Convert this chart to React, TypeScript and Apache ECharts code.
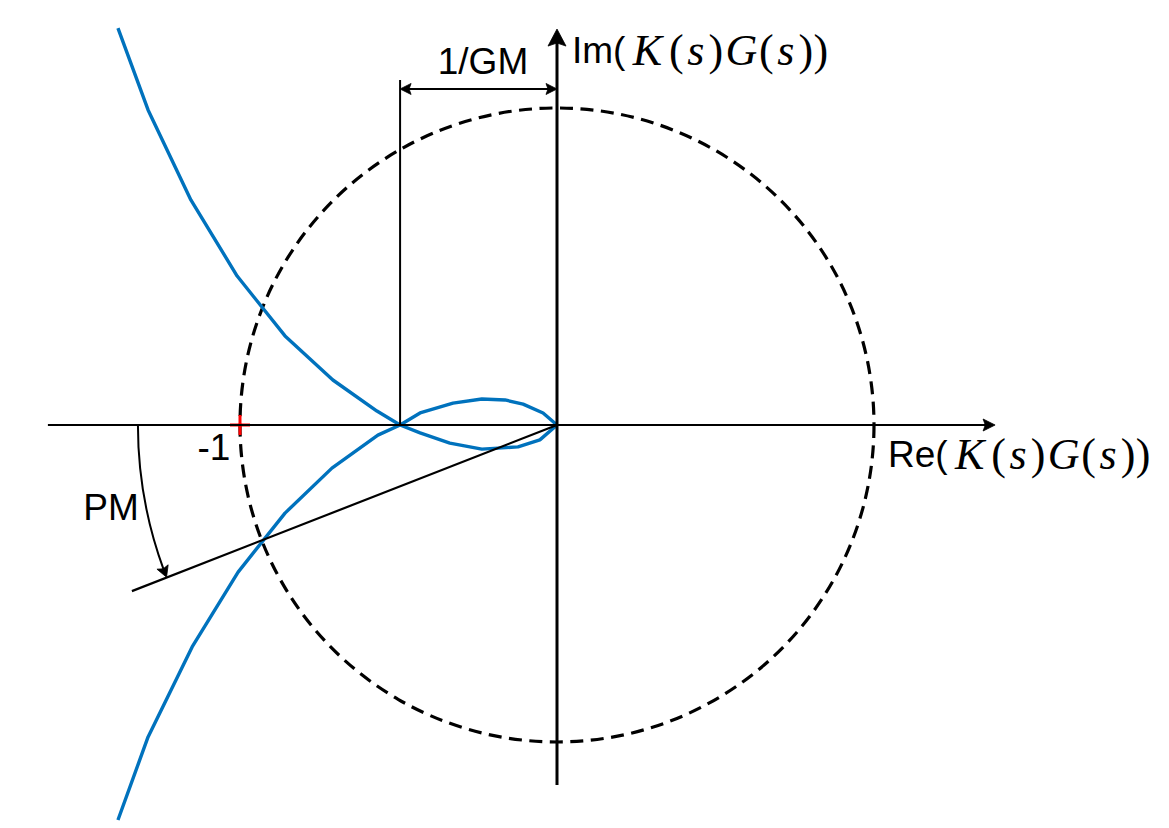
import React, { useEffect, useRef } from "react";
import * as echarts from "echarts";

// ---- Data (Nyquist plot of K(s)G(s)) ----
// branch starting top-left, crossing the real axis at -1/GM, lower loop into origin
const branchA: [number, number][] = [
  [-1.385, 1.252], [-1.29, 0.994], [-1.155, 0.71], [-1.009, 0.47], [-0.858, 0.281],
  [-0.707, 0.142], [-0.568, 0.044], [-0.495, 0.0], [-0.432, -0.025], [-0.338, -0.057],
  [-0.237, -0.076], [-0.123, -0.069], [-0.054, -0.047], [0.0, 0.0],
];
// branch starting bottom-left, crossing at -1/GM, upper loop into origin
const branchB: [number, number][] = [
  [-1.385, -1.246], [-1.29, -0.984], [-1.151, -0.7], [-1.006, -0.464], [-0.858, -0.278],
  [-0.71, -0.136], [-0.565, -0.032], [-0.495, 0.0], [-0.432, 0.038], [-0.328, 0.069],
  [-0.237, 0.082], [-0.164, 0.079], [-0.107, 0.066], [-0.044, 0.038], [0.0, 0.0],
];
const unitCircle = [[0, 0, 1]]; // center x, center y, radius
const criticalPoint = [[-1, 0]];
const pmArc = [[0, 0, 1.322, 21.3]]; // center x, center y, radius, phase margin (deg)

const segmentNames = ["xAxis", "yAxis", "gmTick", "gmArrow", "pmLine"];
const segmentStarts: [number, number][] = [[-1.606, 0], [0, -1.136], [-0.495, 0], [-0.495, 1.06], [0, 0]];
const segmentEnds: [number, number][] = [[1.382, 0], [0, 1.249], [-0.495, 1.088], [0, 1.06], [-1.341, -0.524]];

// ---- Layout / styles ----
const ORIGIN_X = 557;
const ORIGIN_Y = 425;
const UNIT = 317;
const X_MIN = -1.7, X_MAX = 1.9, Y_MIN = -1.25, Y_MAX = 1.3;
const BLUE = "#0072BD";

const segmentStyle: Record<string, any> = {
  xAxis: { width: 2, start: false, end: true, headLen: 12, half: 6 },
  yAxis: { width: 3, start: false, end: true, headLen: 17, half: 9 },
  gmTick: { width: 2, start: false, end: false, headLen: 0, half: 0 },
  gmArrow: { width: 2, start: true, end: true, headLen: 11, half: 5.5 },
  pmLine: { width: 2.2, start: false, end: false, headLen: 0, half: 0 },
};

function arrowHead(tip: number[], dir: number[], len: number, half: number) {
  const bx = tip[0] - dir[0] * len, by = tip[1] - dir[1] * len;
  const px = -dir[1], py = dir[0];
  const nx = tip[0] - dir[0] * len * 0.82, ny = tip[1] - dir[1] * len * 0.82;
  return {
    type: "polygon",
    shape: { points: [[tip[0], tip[1]], [bx + px * half, by + py * half], [nx, ny], [bx - px * half, by - py * half]] },
    style: { fill: "#000", stroke: "#000", lineWidth: 0.8 },
  };
}

const mathRich = (w: number) => ({ fontFamily: "Liberation Serif", fontStyle: "italic", fontSize: 44, width: w, align: "center", fill: "#000" });
const parRich = (w: number) => ({ fontFamily: "Liberation Serif", fontSize: 44, width: w, align: "center", fill: "#000" });
const labelRich = {
  r: { fontFamily: "Liberation Sans", fontSize: 37, fill: "#000" },
  K: mathRich(44),
  s: mathRich(25),
  G: mathRich(36),
  pl: parRich(14),
  pr: parRich(15),
};
const mathText = "{K|K}{pl|(}{s|s}{pr|)}{G|G}{pl|(}{s|s}{pr|)}{pr|)}";

export default function App() {
  const ref = useRef<HTMLDivElement>(null);
  useEffect(() => {
    if (!ref.current) return;
    const chart = echarts.init(ref.current, null, { renderer: "svg" });
    const option: any = {
      animation: false,
      backgroundColor: "#ffffff",
      grid: {
        left: ORIGIN_X + X_MIN * UNIT,
        top: ORIGIN_Y - Y_MAX * UNIT,
        width: (X_MAX - X_MIN) * UNIT,
        height: (Y_MAX - Y_MIN) * UNIT,
        containLabel: false,
      },
      xAxis: {
        type: "value", min: X_MIN, max: X_MAX,
        axisLine: { show: false }, axisTick: { show: false }, axisLabel: { show: false }, splitLine: { show: false },
      },
      yAxis: {
        type: "value", min: Y_MIN, max: Y_MAX,
        axisLine: { show: false }, axisTick: { show: false }, axisLabel: { show: false }, splitLine: { show: false },
      },
      series: [
        {
          type: "custom", z: 2, silent: true,
          data: unitCircle,
          renderItem: (_p: any, api: any) => {
            const c = api.coord([api.value(0), api.value(1)]);
            const r = api.size([api.value(2), 0])[0];
            return {
              type: "circle",
              shape: { cx: c[0], cy: c[1], r },
              style: { fill: "none", stroke: "#000", lineWidth: 3.2, lineDash: [13, 7.5] },
            };
          },
        },
        {
          type: "custom", z: 3, silent: true,
          data: criticalPoint,
          renderItem: (_p: any, api: any) => {
            const c = api.coord([api.value(0), api.value(1)]);
            const h = 10;
            return {
              type: "group",
              children: [
                { type: "line", shape: { x1: c[0] - h, y1: c[1], x2: c[0] + h, y2: c[1] }, style: { stroke: "#ff0000", lineWidth: 3 } },
                { type: "line", shape: { x1: c[0], y1: c[1] - h, x2: c[0], y2: c[1] + h }, style: { stroke: "#ff0000", lineWidth: 3 } },
              ],
            };
          },
        },
        {
          type: "line", z: 3, data: branchA, symbol: "none", clip: false, silent: true,
          lineStyle: { color: BLUE, width: 3.4 },
        },
        {
          type: "line", z: 3, data: branchB, symbol: "none", clip: false, silent: true,
          lineStyle: { color: BLUE, width: 3.4 },
        },
        {
          type: "custom", z: 4, silent: true,
          data: segmentStarts.map((s, i) => [s[0], s[1], segmentEnds[i][0], segmentEnds[i][1], i]),
          renderItem: (_p: any, api: any) => {
            const st = segmentStyle[segmentNames[api.value(4)]];
            const p1 = api.coord([api.value(0), api.value(1)]);
            const p2 = api.coord([api.value(2), api.value(3)]);
            const dx = p2[0] - p1[0], dy = p2[1] - p1[1];
            const len = Math.hypot(dx, dy);
            const u = [dx / len, dy / len];
            let a = [p1[0], p1[1]], b = [p2[0], p2[1]];
            const children: any[] = [];
            if (st.end) {
              b = [p2[0] - u[0] * st.headLen * 0.7, p2[1] - u[1] * st.headLen * 0.7];
              children.push(arrowHead(p2, u, st.headLen, st.half));
            }
            if (st.start) {
              a = [p1[0] + u[0] * st.headLen * 0.7, p1[1] + u[1] * st.headLen * 0.7];
              children.push(arrowHead(p1, [-u[0], -u[1]], st.headLen, st.half));
            }
            children.unshift({
              type: "line",
              shape: { x1: a[0], y1: a[1], x2: b[0], y2: b[1] },
              style: { stroke: "#000", lineWidth: st.width },
            });
            return { type: "group", children };
          },
        },
        {
          type: "custom", z: 4, silent: true,
          data: pmArc,
          renderItem: (_p: any, api: any) => {
            const c = api.coord([api.value(0), api.value(1)]);
            const r = api.size([api.value(2), 0])[0];
            const ang = (api.value(3) * Math.PI) / 180;
            const a0 = Math.PI - ang;
            const headLen = 11, half = 6;
            const tip = [c[0] + r * Math.cos(a0), c[1] + r * Math.sin(a0)];
            const dir = [Math.sin(a0), -Math.cos(a0)];
            return {
              type: "group",
              children: [
                {
                  type: "arc",
                  shape: { cx: c[0], cy: c[1], r, startAngle: a0 + (headLen * 0.7) / r, endAngle: Math.PI, clockwise: true },
                  style: { fill: "none", stroke: "#000", lineWidth: 2 },
                },
                arrowHead(tip, dir, headLen, half),
              ],
            };
          },
        },
      ],
      graphic: [
        {
          type: "text", x: 483, y: 61, z: 10,
          style: { text: "1/GM", fontFamily: "Liberation Sans", fontSize: 37, fill: "#000", textAlign: "center", textVerticalAlign: "middle" },
        },
        {
          type: "text", x: 214, y: 447, z: 10,
          style: { text: "-1", fontFamily: "Liberation Sans", fontSize: 37, fill: "#000", textAlign: "center", textVerticalAlign: "middle" },
        },
        {
          type: "text", x: 111, y: 507, z: 10,
          style: { text: "PM", fontFamily: "Liberation Sans", fontSize: 37, fill: "#000", textAlign: "center", textVerticalAlign: "middle" },
        },
        {
          type: "text", x: 572, y: 50, z: 10,
          style: { text: "{r|Im(}" + mathText, rich: labelRich, textAlign: "left", textVerticalAlign: "middle" },
        },
        {
          type: "text", x: 888, y: 454, z: 10,
          style: { text: "{r|Re(}" + mathText, rich: labelRich, textAlign: "left", textVerticalAlign: "middle" },
        },
      ],
    };
    chart.setOption(option);
    return () => chart.dispose();
  }, []);
  return (
    <div
      ref={ref}
      style={{ position: "absolute", left: 0, top: 0, width: 1169, height: 828, background: "#fff" }}
    />
  );
}
